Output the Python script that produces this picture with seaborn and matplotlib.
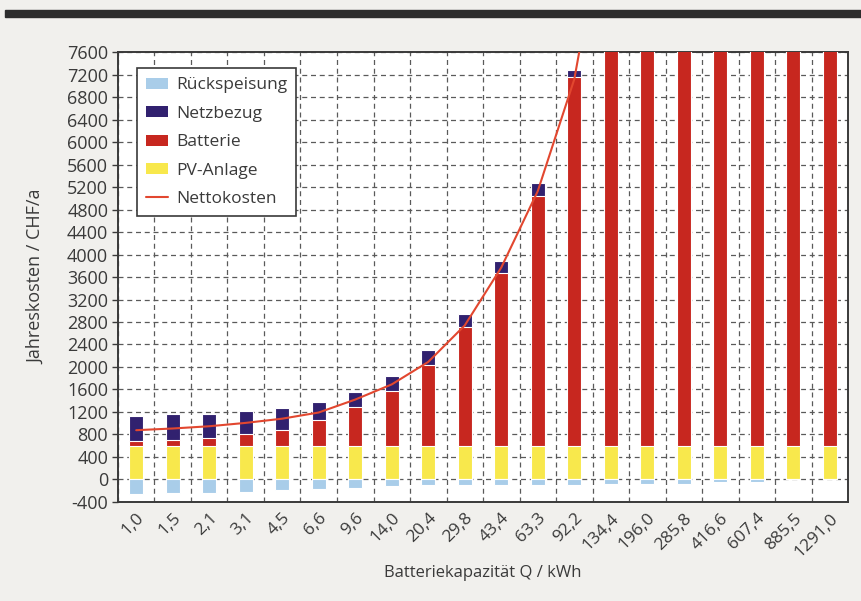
import numpy as np
import pandas as pd
import seaborn as sns
import matplotlib.pyplot as plt
from matplotlib.patches import Patch, Rectangle
from matplotlib.lines import Line2D

# Batteriekapazitaet (Kategorien) und Kostenanteile in CHF/a
kapazitaet = ['1,0', '1,5', '2,1', '3,1', '4,5', '6,6', '9,6', '14,0', '20,4', '29,8',
              '43,4', '63,3', '92,2', '134,4', '196,0', '285,8', '416,6', '607,4', '885,5', '1291,0']
pv_anlage = [600, 600, 600, 600, 600, 600, 600, 600, 600, 600,
             600, 600, 600, 600, 600, 600, 600, 600, 600, 600]
batterie = [90, 100, 130, 200, 280, 455, 690, 980, 1430, 2110,
            3075, 4440, 6555, 9800, 14300, 20800, 30300, 43800, 63800, 93000]
netzbezug = [445, 460, 440, 415, 395, 320, 272, 256, 266, 237,
             208, 237, 136, 120, 100, 80, 60, 50, 40, 30]
rueckspeisung = [-265, -250, -250, -225, -190, -165, -145, -115, -100, -95,
                 -95, -100, -95, -90, -85, -75, -55, -40, 0, 0]
nettokosten = [875, 905, 945, 1005, 1080, 1190, 1420, 1690, 2090, 2740,
               3770, 5130, 7120, 10700, 14900, 21400, 30900, 44400, 64400, 93600]

df = pd.DataFrame({'Q': kapazitaet, 'PV': pv_anlage, 'Bat': batterie,
                   'Netz': netzbezug, 'Rueck': rueckspeisung, 'Netto': nettokosten})
df['pv_bat'] = df['PV'] + df['Bat']
df['pv_bat_netz'] = df['pv_bat'] + df['Netz']

c_rueck = '#a9cde9'
c_netz = '#31216f'
c_bat = '#c7271f'
c_pv = '#f8e84c'
c_line = '#e2472f'
txt = '#3a3a3a'

sns.set_style('white')
plt.rcParams['font.family'] = ['Open Sans', 'DejaVu Sans']
plt.rcParams['axes.unicode_minus'] = False

fig = plt.figure(figsize=(8.61, 6.01), dpi=100)
fig.patch.set_facecolor('#f1f0ed')
ax = fig.add_axes([0.137, 0.165, 0.848, 0.748])
ax.set_facecolor('white')

# dunkler Balken oben
fig.add_artist(Rectangle((0.006, 0.972), 0.994, 0.012, transform=fig.transFigure,
                         color='#2d2d2d', zorder=0))

bw = 0.38
for col, colr in [('pv_bat_netz', c_netz), ('pv_bat', c_bat), ('PV', c_pv), ('Rueck', c_rueck)]:
    sns.barplot(data=df, x='Q', y=col, color=colr, width=bw, saturation=1,
                edgecolor='white', linewidth=0.8, ax=ax, zorder=3)

sns.lineplot(x=np.arange(len(df)), y=df['Netto'], color=c_line, linewidth=1.5,
             sort=False, ax=ax, zorder=4)

ax.set_xlim(-0.5, len(df) - 0.5)
ax.set_ylim(-400, 7600)
ax.set_yticks(np.arange(-400, 7601, 400))
ax.set_yticklabels([str(v) for v in range(-400, 7601, 400)])
ax.set_xticks(np.arange(len(df)))
ax.set_xticklabels(kapazitaet, rotation=45, ha='right', rotation_mode='anchor')
ax.set_xticks(np.arange(-0.5, len(df), 1), minor=True)

ax.grid(False)
ax.yaxis.grid(True, linestyle=(0, (4, 3)), color='#5a5a5a', linewidth=0.9, zorder=1)
ax.xaxis.grid(True, which='minor', linestyle=(0, (4, 3)), color='#5a5a5a', linewidth=0.9, zorder=1)
ax.set_axisbelow(True)

ax.tick_params(axis='x', which='both', length=0, labelsize=12.5, colors=txt, pad=6)
ax.tick_params(axis='y', length=4, width=1, labelsize=13, colors=txt, left=True, pad=3)
for s in ax.spines.values():
    s.set_color('#3a3a3a')
    s.set_linewidth(1.4)

ax.set_xlabel('Batteriekapazität Q / kWh', fontsize=12, color=txt, labelpad=4)
ax.set_ylabel('Jahreskosten / CHF/a', fontsize=13, color=txt, labelpad=16)

handles = [Patch(facecolor=c_rueck, edgecolor='none'),
           Patch(facecolor=c_netz, edgecolor='none'),
           Patch(facecolor=c_bat, edgecolor='none'),
           Patch(facecolor=c_pv, edgecolor='none'),
           Line2D([0], [0], color=c_line, linewidth=1.5)]
labels = ['Rückspeisung', 'Netzbezug', 'Batterie', 'PV-Anlage', 'Nettokosten']
leg = ax.legend(handles, labels, loc='upper left', bbox_to_anchor=(0.026, 0.964),
                borderaxespad=0, fontsize=12.5, frameon=True, fancybox=False, framealpha=1,
                edgecolor='#3a3a3a', handlelength=1.3, handleheight=0.6,
                labelspacing=0.72, borderpad=0.5, handletextpad=0.45, labelcolor=txt)
leg.get_frame().set_linewidth(1.2)
leg.set_zorder(5)

fig.savefig('out.png', dpi=100, facecolor=fig.get_facecolor())
